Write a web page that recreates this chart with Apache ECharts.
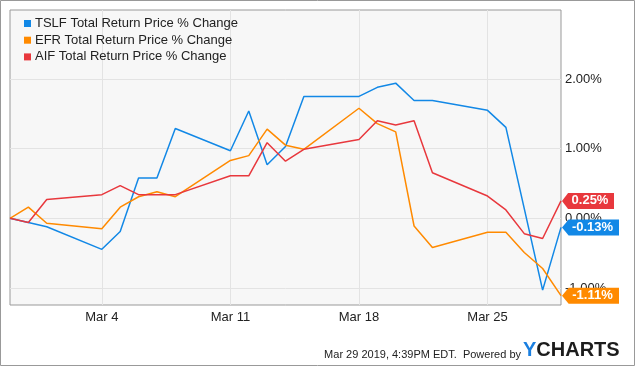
<!DOCTYPE html>
<html>
<head>
<meta charset="utf-8">
<script src="https://cdn.jsdelivr.net/npm/echarts@6/dist/echarts.min.js"></script>
<style>
html,body{margin:0;padding:0;background:#fff;}
#c{width:635px;height:366px;}
</style>
</head>
<body>
<div id="c"></div>
<script>
var dates = ['2019-02-27','2019-02-28','2019-03-01','2019-03-04','2019-03-05','2019-03-06','2019-03-07','2019-03-08',
  '2019-03-11','2019-03-12','2019-03-13','2019-03-14','2019-03-15','2019-03-18','2019-03-19','2019-03-20',
  '2019-03-21','2019-03-22','2019-03-25','2019-03-26','2019-03-27','2019-03-28','2019-03-29'];
var tslf = [0, -0.06, -0.12, -0.445, -0.19, 0.58, 0.58, 1.29, 0.97, 1.54, 0.77, 1.03, 1.75, 1.75, 1.88, 1.94, 1.69, 1.69, 1.55, 1.305, 0.14, -1.03, -0.13];
var efr  = [0, 0.16, -0.07, -0.15, 0.16, 0.31, 0.38, 0.31, 0.83, 0.90, 1.28, 1.05, 0.99, 1.58, 1.36, 1.24, -0.11, -0.42, -0.20, -0.20, -0.49, -0.72, -1.11];
var aif  = [0, -0.06, 0.27, 0.34, 0.47, 0.34, 0.34, 0.34, 0.61, 0.61, 1.085, 0.82, 0.99, 1.13, 1.40, 1.34, 1.40, 0.655, 0.32, 0.12, -0.22, -0.29, 0.25];
var seriesNames = ['TSLF Total Return Price % Change','EFR Total Return Price % Change','AIF Total Return Price % Change'];
var xTickDates = ['2019-03-04','2019-03-11','2019-03-18','2019-03-25'];
var yTicks = [-1, 0, 1, 2];
var xMinDate = '2019-02-27', xMaxDate = '2019-03-29';
var yMin = -1.244, yMax = 2.99;

var colors = ['#1288e6', '#ff8a00', '#e8383d'];
var FONT = 'Liberation Sans, Arial, sans-serif';
var months = ['Jan','Feb','Mar','Apr','May','Jun','Jul','Aug','Sep','Oct','Nov','Dec'];
function ts(s){ var p = s.split('-'); return Date.UTC(+p[0], +p[1]-1, +p[2]); }

function mkSeries(name, vals, color){
  var last = vals[vals.length-1];
  var txt = last.toFixed(2) + '%';
  var w = last < 0 ? 57 : 52;
  return {
    name: name, type: 'line', symbol: 'none', showSymbol: false,
    data: dates.map(function(d,i){ return [ts(d), vals[i]]; }),
    lineStyle: {color: color, width: 1.5},
    itemStyle: {color: color},
    emphasis: {disabled: true},
    markPoint: {
      silent: true,
      symbol: 'path://M0,8 L7,0 L60,0 L60,16 L7,16 Z',
      symbolKeepAspect: false,
      symbolSize: [w, 16],
      symbolOffset: [w/2 + 1, 0],
      itemStyle: {color: color},
      label: {show: true, position: 'inside', formatter: txt, color: '#fff', fontWeight: 'bold', fontSize: 13, fontFamily: FONT, offset: [2, 0]},
      data: [{coord: [ts(dates[dates.length-1]), last], value: last}]
    }
  };
}

var chart = echarts.init(document.getElementById('c'), null, {renderer: 'canvas'});
chart.setOption({
  animation: false,
  backgroundColor: '#fff',
  textStyle: {fontFamily: FONT},
  grid: {left: 10, top: 10, right: 74, bottom: 61, show: true, borderColor: '#999', borderWidth: 1, backgroundColor: '#f7f7f7', containLabel: false},
  legend: {
    orient: 'vertical', left: 24, top: 17, padding: 0, icon: 'rect', itemWidth: 7, itemHeight: 7, itemGap: 3.7,
    textStyle: {fontSize: 13, color: '#222', fontFamily: FONT, lineHeight: 13, padding: [0, 0, 0, -1]},
    data: seriesNames, selectedMode: false
  },
  xAxis: {
    type: 'value', min: ts(xMinDate), max: ts(xMaxDate),
    axisLine: {show: false}, axisTick: {show: false, customValues: xTickDates.map(ts)},
    axisLabel: {customValues: xTickDates.map(ts), fontSize: 13, color: '#222', margin: 6, fontFamily: FONT,
      formatter: function(v){ var d = new Date(v); return months[d.getUTCMonth()] + ' ' + d.getUTCDate(); }},
    splitLine: {show: true, lineStyle: {color: '#e3e3e3', width: 1}}
  },
  yAxis: {
    type: 'value', position: 'right', min: yMin, max: yMax,
    axisLine: {show: false}, axisTick: {show: false, customValues: yTicks},
    axisLabel: {customValues: yTicks, fontSize: 13, color: '#222', margin: 4, fontFamily: FONT,
      formatter: function(v){ return v.toFixed(2) + '%'; }},
    splitLine: {show: true, lineStyle: {color: '#e3e3e3', width: 1}}
  },
  series: [mkSeries(seriesNames[0], tslf, colors[0]), mkSeries(seriesNames[1], efr, colors[1]), mkSeries(seriesNames[2], aif, colors[2])],
  graphic: [
    {type: 'rect', shape: {x: 0.5, y: 0.5, width: 634, height: 365}, style: {fill: 'none', stroke: '#999', lineWidth: 1}, silent: true},
    {type: 'text', x: 521, y: 354.5, style: {text: 'Mar 29 2019, 4:39PM EDT.  Powered by', font: '11px ' + FONT, fill: '#222', textAlign: 'right', textVerticalAlign: 'middle'}},
    {type: 'text', x: 523, y: 350.5, style: {text: '{y|Y}{c|CHARTS}', textVerticalAlign: 'middle', rich: {
      y: {fill: '#1a7fe0', color: '#1a7fe0', fontSize: 20, fontWeight: 'bold', fontFamily: FONT},
      c: {fill: '#1c1c1c', color: '#1c1c1c', fontSize: 20, fontWeight: 'bold', fontFamily: FONT}
    }}}
  ]
});
</script>
</body>
</html>
